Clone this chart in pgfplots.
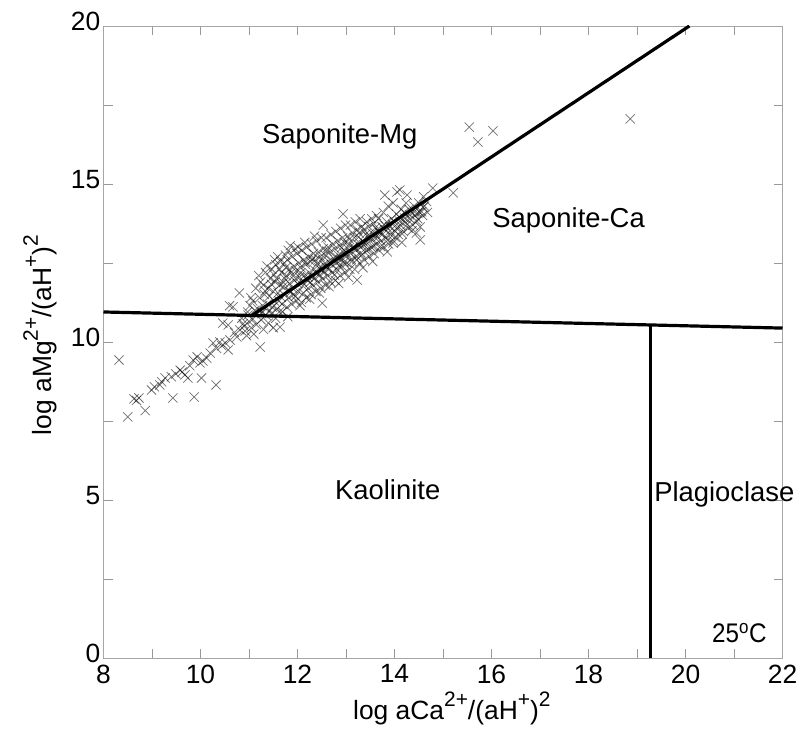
\documentclass[border=0pt]{standalone}
\usepackage{pgfplots}
\pgfplotsset{compat=1.18}
\usepackage{fontspec}
\setmainfont{Liberation Sans}
\newcommand{\sps}[1]{\raisebox{0.5em}{\fontsize{21}{25}\selectfont #1}}
\begin{document}
\begin{tikzpicture}
\begin{axis}[
  scale only axis,
  width=679bp, height=632bp,
  xmin=8, xmax=22, ymin=0, ymax=20,
  xtick={8,10,...,22}, ytick={0,5,...,20},
  minor x tick num=1, minor y tick num=1,
  tick align=inside,
  major tick length=9bp, minor tick length=9bp,
  every tick/.style={gray!80, line width=0.6pt},
  axis line style={gray!70, line width=0.8pt},
  /pgf/number format/assume math mode=true,
  tick label style={font=\fontsize{26.5}{31}\selectfont, inner sep=0pt},
  yticklabel style={yshift=4.5bp},
  xticklabel shift=6.5bp, yticklabel shift=3bp,
  xlabel={log aCa\sps{2+}/(aH\sps{+})\sps{2}},
  ylabel={log aMg\sps{2+}/(aH\sps{+})\sps{2}},
  label style={font=\fontsize{26.5}{31}\selectfont},
  xlabel style={at={(axis description cs:0.513,-0.080)}, anchor=center},
  ylabel style={at={(axis description cs:-0.0935,0.511)}, anchor=center},
  clip=true,
]
\coordinate (ll) at (rel axis cs:0,0);
\coordinate (ur) at (rel axis cs:1,1);
% scatter of samples
\addplot[only marks, mark=x, mark size=6.5bp, black, mark options={line width=0.75pt, draw opacity=0.55}] coordinates {
(8.32,9.43) (8.50,7.63) (8.86,7.83) (8.63,8.20) (8.73,8.23) (8.68,8.15) (8.99,8.48) (9.20,8.74) (9.27,8.86) (9.16,8.64)
(9.05,8.58) (9.43,8.23) (9.87,8.26) (9.58,9.11) (9.68,8.96) (9.74,8.86) (9.49,8.99) (9.40,8.90) (9.62,9.05) (10.02,8.86)
(10.32,8.64) (9.85,9.43) (9.93,9.53) (9.99,9.34) (10.13,9.49) (10.20,9.65) (10.05,9.40) (9.78,9.25) (10.26,9.97) (10.40,10.00)
(10.51,9.97) (10.57,9.75) (10.61,10.06) (10.75,10.16) (10.33,9.80) (10.44,9.88) (10.46,10.60) (10.57,10.54) (10.67,11.11) (10.81,10.38)
(10.80,11.55) (10.60,11.15) (10.70,10.30) (10.90,10.50) (10.95,10.20) (11.00,10.65) (10.85,10.75) (10.92,10.35) (11.05,10.45) (11.10,10.25)
(11.15,10.55) (11.23,9.84) (11.25,10.70) (11.30,10.40) (11.40,10.60) (11.50,10.45) (11.35,10.85) (11.55,10.75) (11.64,10.47) (11.80,10.80)
(11.62,10.95) (10.98,10.85) (10.88,10.58) (11.08,10.72)
(11.02,11.15) (11.04,11.40) (10.97,10.95)
(11.12,11.00) (11.08,11.30) (11.14,11.70)
(11.18,11.05) (11.22,11.40) (11.24,11.90) (11.20,12.10) (11.26,10.90)
(11.28,11.15) (11.32,11.50) (11.30,11.80) (11.34,12.20) (11.27,10.95)
(11.38,11.20) (11.42,11.45) (11.40,11.70) (11.44,12.00) (11.37,12.40) (11.43,11.00)
(11.48,11.10) (11.52,11.30) (11.50,11.60) (11.54,11.90) (11.47,12.30) (11.53,12.60) (11.46,10.90)
(11.58,11.05) (11.62,11.30) (11.60,11.55) (11.64,11.80) (11.57,12.00) (11.63,12.30) (11.59,12.70)
(11.68,11.20) (11.72,11.50) (11.70,11.75) (11.74,12.00) (11.67,12.20) (11.73,12.50) (11.69,10.95)
(11.78,11.10) (11.82,11.40) (11.80,11.65) (11.84,11.85) (11.77,12.10) (11.83,12.30) (11.79,12.60) (11.81,12.90)
(11.88,11.20) (11.92,11.50) (11.90,11.70) (11.94,11.95) (11.87,12.20) (11.93,12.40) (11.89,12.70)
(11.98,11.30) (12.02,11.60) (12.00,11.85) (12.04,12.05) (11.97,12.25) (12.03,12.50) (11.99,12.80) (12.01,13.00)
(12.08,11.25) (12.12,11.55) (12.10,11.90) (12.14,12.10) (12.07,12.35) (12.13,12.60) (12.09,12.90)
(12.18,11.40) (12.22,11.70) (12.20,11.95) (12.24,12.20) (12.17,12.45) (12.23,12.70) (12.19,13.00)
(12.28,11.50) (12.32,11.80) (12.30,12.05) (12.34,12.30) (12.27,12.55) (12.33,12.80) (12.29,13.10)
(12.38,11.60) (12.42,11.90) (12.40,12.15) (12.44,12.35) (12.37,12.60) (12.43,12.85) (12.39,13.20)
(12.48,11.70) (12.52,12.00) (12.50,12.25) (12.54,12.45) (12.47,12.70) (12.53,12.95) (12.49,13.30)
(12.58,11.80) (12.62,12.10) (12.60,12.35) (12.64,12.55) (12.57,12.75) (12.63,13.00) (12.59,13.30)
(12.68,11.90) (12.72,12.20) (12.70,12.45) (12.74,12.65) (12.67,12.85) (12.73,13.10) (12.69,13.40)
(12.78,11.95) (12.82,12.30) (12.80,12.50) (12.84,12.75) (12.77,12.95) (12.83,13.20) (12.79,13.50)
(12.88,12.10) (12.92,12.40) (12.90,12.60) (12.94,12.85) (12.87,13.05) (12.93,13.30) (12.89,13.60)
(12.98,12.20) (13.02,12.50) (13.00,12.70) (13.04,12.95) (12.97,13.15) (13.03,13.35) (12.99,13.70)
(13.08,12.30) (13.12,12.55) (13.10,12.80) (13.14,13.00) (13.07,13.25) (13.13,13.45) (13.09,13.70)
(13.18,12.30) (13.22,12.60) (13.20,12.90) (13.24,13.10) (13.17,13.30) (13.23,13.55) (13.19,13.80)
(13.28,12.50) (13.32,12.75) (13.30,13.00) (13.34,13.20) (13.27,13.45) (13.33,13.65) (13.29,13.90)
(13.38,12.60) (13.42,12.90) (13.40,13.10) (13.44,13.35) (13.37,13.55) (13.43,13.80)
(13.48,12.70) (13.52,13.00) (13.50,13.20) (13.54,13.45) (13.47,13.65) (13.53,13.90)
(13.58,12.80) (13.62,13.10) (13.60,13.30) (13.64,13.55) (13.57,13.75) (13.63,14.00)
(13.68,12.90) (13.72,13.20) (13.70,13.45) (13.74,13.65) (13.67,13.90)
(13.78,13.00) (13.82,13.30) (13.80,13.55) (13.84,13.80) (13.77,14.10)
(13.88,13.10) (13.92,13.40) (13.90,13.65) (13.94,13.90) (13.87,14.30)
(13.98,13.20) (14.02,13.50) (14.00,13.80) (14.04,14.05) (13.97,14.40)
(14.08,13.40) (14.12,13.70) (14.10,13.95) (14.14,14.20)
(14.18,13.50) (14.22,13.80) (14.20,14.10) (14.24,14.40)
(14.28,13.60) (14.32,13.90) (14.30,14.20)
(14.38,13.70) (14.42,14.00) (14.40,14.30)
(14.48,13.90) (14.52,14.10) (14.50,14.40)
(14.58,14.00) (14.62,14.30)
(11.33,11.62) (11.46,11.83) (11.51,12.14) (11.66,11.42) (11.71,11.88) (11.76,12.36) (11.86,11.58) (11.91,12.08) (11.96,11.45) (12.06,12.18)
(12.11,11.78) (12.16,12.52) (12.21,12.06) (12.26,11.88) (12.31,12.62) (12.36,12.02) (12.41,12.48) (12.46,12.12) (12.51,12.58) (12.56,12.22)
(12.61,12.88) (12.66,12.32) (12.71,12.58) (12.76,12.12) (12.81,12.68) (12.86,12.42) (12.91,12.98) (12.96,12.52) (13.01,12.82) (13.06,13.08)
(13.11,12.62) (13.16,13.02) (13.21,12.72) (13.26,13.32) (13.31,12.82) (13.36,13.08) (13.41,13.42) (13.46,12.92) (13.51,13.32) (13.56,13.02)
(13.61,13.62) (13.66,13.32) (13.71,13.02) (13.76,13.42) (13.81,13.68) (13.86,13.22) (13.91,13.52) (13.96,13.72) (14.01,13.32) (14.06,13.62)
(14.11,13.82) (14.16,13.42) (14.21,13.92) (14.26,13.72) (14.31,14.02) (14.36,13.52) (14.41,14.12) (14.46,13.82) (14.56,14.12) (14.66,14.45) (14.68,14.10)
(11.55,12.45) (11.75,12.75) (11.95,12.95) (12.15,13.15) (11.85,13.05) (12.35,13.35) (11.65,12.55) (12.05,11.15) (12.25,11.35) (12.45,11.55)
(12.65,11.75) (12.85,11.85) (13.05,12.05) (13.35,12.35) (13.55,12.55) (13.85,12.85) (14.15,13.15) (14.45,13.45)
(12.53,13.70) (12.94,14.05) (13.80,14.65) (14.11,14.81) (14.26,14.65) (14.79,14.87) (15.21,14.72) (14.53,13.64)
(14.53,13.23) (14.48,14.08) (14.59,14.27) (12.51,11.23) (13.23,11.96) (13.97,13.13) (14.05,14.75) (14.60,14.60)
(15.54,16.80) (16.03,16.68) (15.72,16.33) (18.86,17.06)
};
% stability field boundaries
\addplot[black, line width=3.2bp, no marks] coordinates {(8,10.95) (22,10.44)};
\addplot[black, line width=3.2bp, no marks] coordinates {(11.06,10.84) (20.08,20)};
\addplot[black, line width=3.2bp, no marks] coordinates {(19.28,0) (19.28,10.54)};
\end{axis}
% field labels (outside clip)
\begin{axis}[
  scale only axis, width=679bp, height=632bp,
  xmin=8, xmax=22, ymin=0, ymax=20, clip=false, hide axis,
]
\node[font=\fontsize{27.5}{32}\selectfont] at (axis cs:12.87,16.5) {Saponite-Mg};
\node[font=\fontsize{27.5}{32}\selectfont] at (axis cs:17.59,13.85) {Saponite-Ca};
\node[font=\fontsize{27.5}{32}\selectfont] at (axis cs:13.86,5.32) {Kaolinite};
\node[font=\fontsize{27.5}{32}\selectfont] at (axis cs:20.80,5.19) {Plagioclase};
\node[font=\fontsize{27}{32}\selectfont] at (axis cs:21.11,0.8) {\scalebox{0.9}[1]{25\textsuperscript{o}C}};
\end{axis}
\pgfresetboundingbox
\path[use as bounding box] ([shift={(-103.5bp,-74bp)}]ll) rectangle ([shift={(19.5bp,26bp)}]ur);
\end{tikzpicture}
\end{document}
